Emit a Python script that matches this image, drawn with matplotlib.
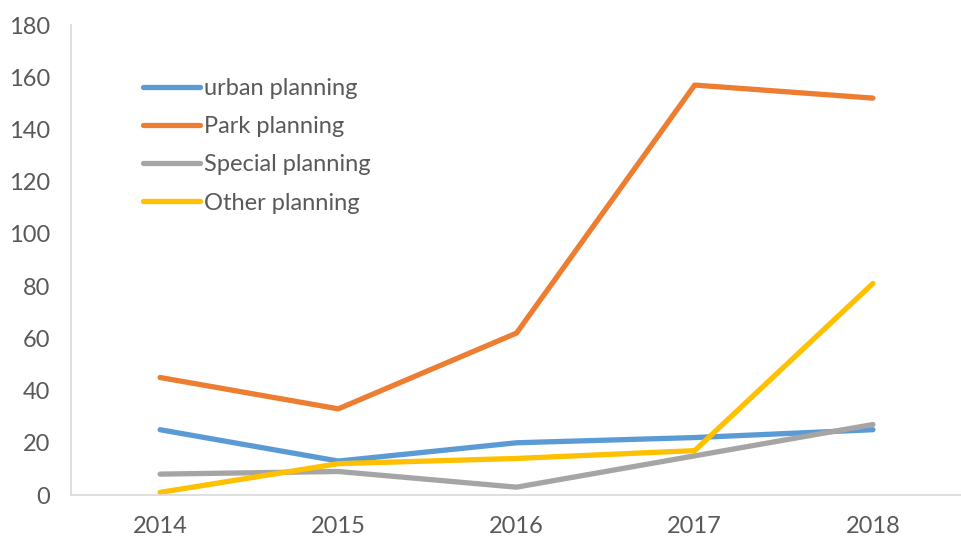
import matplotlib.pyplot as plt

years = ['2014', '2015', '2016', '2017', '2018']
urban = [25, 13, 20, 22, 25]
park = [45, 33, 62, 157, 152]
special = [8, 9, 3, 15, 27]
other = [1, 12, 14, 17, 81]

series = [
    ('urban planning', urban, '#5B9BD5'),
    ('Park planning', park, '#ED7D31'),
    ('Special planning', special, '#A5A5A5'),
    ('Other planning', other, '#FFC000'),
]

plt.rcParams['font.family'] = ['Lato', 'DejaVu Sans']

fig = plt.figure(figsize=(9.62, 5.38), dpi=100)
ax = fig.add_axes([71 / 962, 1 - 495 / 538, 1 - 71 / 962, 470 / 538])

x = range(len(years))
for name, vals, col in series:
    ax.plot(x, vals, color=col, lw=3.8, label=name,
            solid_capstyle='round', solid_joinstyle='round')

ax.set_xlim(-0.5, len(years) - 0.5)
ax.set_ylim(0, 180)
ax.set_yticks(range(0, 181, 20))
ax.set_xticks(list(x))
ax.set_xticklabels(years)
ax.tick_params(length=0, labelsize=17, labelcolor='#595959')
ax.tick_params(axis='y', pad=15)
ax.tick_params(axis='x', pad=15)

for s in ['top', 'right']:
    ax.spines[s].set_visible(False)
for s in ['left', 'bottom']:
    ax.spines[s].set_color('#D9D9D9')
    ax.spines[s].set_linewidth(1.2)

leg = ax.legend(loc='upper left', bbox_to_anchor=(143 / 962, 1 - 78 / 538),
                bbox_transform=fig.transFigure, frameon=False, fontsize=17,
                handlelength=2.4, handletextpad=0.17, labelspacing=0.73,
                borderpad=0, borderaxespad=0)
for t in leg.get_texts():
    t.set_color('#595959')

fig.savefig('out.png', dpi=100)
